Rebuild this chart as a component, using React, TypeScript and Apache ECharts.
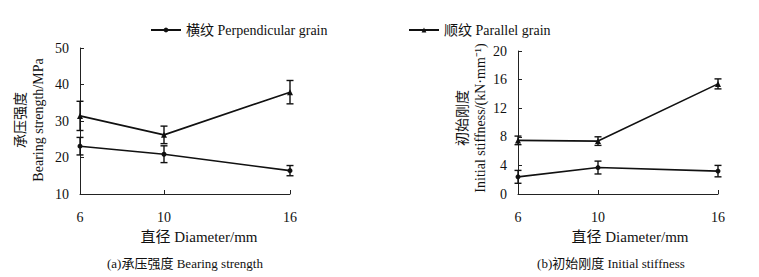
import React, { useEffect, useRef } from "react";
import * as echarts from "echarts";

const diameters = [6, 10, 16];
const strengthPerp = [23.1, 20.9, 16.4];
const strengthPerpErr = [2.4, 2.3, 1.4];
const strengthPara = [31.4, 26.2, 37.9];
const strengthParaErr = [4.0, 2.4, 3.2];
const stiffPerp = [2.4, 3.7, 3.2];
const stiffPerpErr = [0.9, 0.9, 0.8];
const stiffPara = [7.5, 7.4, 15.4];
const stiffParaErr = [0.6, 0.6, 0.7];

const perpName = "横纹 Perpendicular grain";
const paraName = "顺纹 Parallel grain";
const xName = "直径 Diameter/mm";
const leftYName = "承压强度\nBearing strength/MPa";
const rightYName = "初始刚度\nInitial stiffness/(kN·mm⁻¹)";
const captionA = "(a)承压强度 Bearing strength";
const captionB = "(b)初始刚度 Initial stiffness";

const FONT = '"Liberation Serif", "Noto Sans CJK SC", serif';
const INK = "#111";

export default function App() {
  const ref = useRef<HTMLDivElement>(null);
  useEffect(() => {
    if (!ref.current) return;
    const chart = echarts.init(ref.current, null, { renderer: "svg" });

    const pts = (vals: number[]) => diameters.map((d, i) => [d, vals[i]]);
    const errs = (vals: number[], e: number[]) =>
      diameters.map((d, i) => [d, vals[i] - e[i], vals[i] + e[i]]);

    const renderErr = (params: any, api: any) => {
      const x = api.value(0);
      const lo = api.coord([x, api.value(1)]);
      const hi = api.coord([x, api.value(2)]);
      const w = 3.5;
      const st = { stroke: INK, lineWidth: 1.4 };
      return {
        type: "group",
        children: [
          { type: "line", shape: { x1: hi[0], y1: hi[1], x2: lo[0], y2: lo[1] }, style: st },
          { type: "line", shape: { x1: hi[0] - w, y1: hi[1], x2: hi[0] + w, y2: hi[1] }, style: st },
          { type: "line", shape: { x1: lo[0] - w, y1: lo[1], x2: lo[0] + w, y2: lo[1] }, style: st },
        ],
      };
    };

    const lineSeries = (name: string, data: number[][], idx: number, symbol: string, size: number) => ({
      type: "line",
      name,
      data,
      xAxisIndex: idx,
      yAxisIndex: idx,
      symbol,
      symbolSize: size,
      itemStyle: { color: INK },
      lineStyle: { color: INK, width: 1.6 },
      z: 3,
    });

    const errSeries = (name: string, data: number[][], idx: number) => ({
      type: "custom",
      name,
      data,
      xAxisIndex: idx,
      yAxisIndex: idx,
      renderItem: renderErr,
      encode: { x: 0, y: [1, 2] },
      z: 4,
    });

    const xAxis = (idx: number) => ({
      type: "value",
      gridIndex: idx,
      min: 6,
      max: 16,
      splitLine: { show: false },
      axisLine: { lineStyle: { color: "#222", width: 1 } },
      axisTick: { inside: true, length: 4, customValues: diameters, lineStyle: { color: "#222" } },
      axisLabel: { customValues: diameters, margin: 16, color: INK, fontFamily: FONT, fontSize: 14 },
    });

    const yAxis = (idx: number, min: number, max: number, interval: number) => ({
      type: "value",
      gridIndex: idx,
      min,
      max,
      interval,
      splitLine: { show: false },
      axisLine: { show: true, lineStyle: { color: "#222", width: 1 } },
      axisTick: { show: true, inside: true, length: 4, lineStyle: { color: "#222" } },
      axisLabel: { margin: 11, color: INK, fontFamily: FONT, fontSize: 14 },
    });

    const txt = (text: string, x: number, y: number, size: number, rot = 0) => ({
      type: "text",
      x,
      y,
      rotation: rot,
      style: {
        text,
        fill: INK,
        font: `${size}px ${FONT}`,
        fontSize: size,
        fontFamily: FONT,
        textAlign: "center",
        textVerticalAlign: "middle",
        verticalAlign: "middle",
        lineHeight: 18,
      },
    });

    const legendText = { color: INK, fontFamily: FONT, fontSize: 14 };

    chart.setOption({
      animation: false,
      backgroundColor: "#fff",
      grid: [
        { left: 80, top: 48, width: 210, height: 146 },
        { left: 518, top: 51, width: 200, height: 143 },
      ],
      xAxis: [xAxis(0), xAxis(1)],
      yAxis: [yAxis(0, 10, 50, 10), yAxis(1, 0, 20, 4)],
      legend: [
        {
          data: [perpName],
          left: 145,
          top: 18,
          itemWidth: 30,
          itemHeight: 6,
          itemGap: 6,
          textStyle: legendText,
        },
        {
          data: [paraName],
          left: 403,
          top: 18,
          itemWidth: 30,
          itemHeight: 6,
          textStyle: legendText,
        },
      ],
      series: [
        lineSeries(perpName, pts(strengthPerp), 0, "circle", 5),
        lineSeries(paraName, pts(strengthPara), 0, "triangle", 6),
        lineSeries(perpName, pts(stiffPerp), 1, "circle", 5),
        lineSeries(paraName, pts(stiffPara), 1, "triangle", 6),
        errSeries("errA1", errs(strengthPerp, strengthPerpErr), 0),
        errSeries("errA2", errs(strengthPara, strengthParaErr), 0),
        errSeries("errB1", errs(stiffPerp, stiffPerpErr), 1),
        errSeries("errB2", errs(stiffPara, stiffParaErr), 1),
      ],
      graphic: [
        txt(leftYName, 29, 120, 14, Math.PI / 2),
        txt(rightYName, 471, 118, 14, Math.PI / 2),
        txt(xName, 199, 237, 15),
        txt(xName, 630, 237, 15),
        txt(captionA, 185, 263, 13),
        txt(captionB, 611, 263, 13),
      ],
    });
    return () => chart.dispose();
  }, []);
  return (
    <div
      ref={ref}
      style={{ position: "absolute", left: 0, top: 0, width: 759, height: 277, background: "#fff" }}
    />
  );
}
